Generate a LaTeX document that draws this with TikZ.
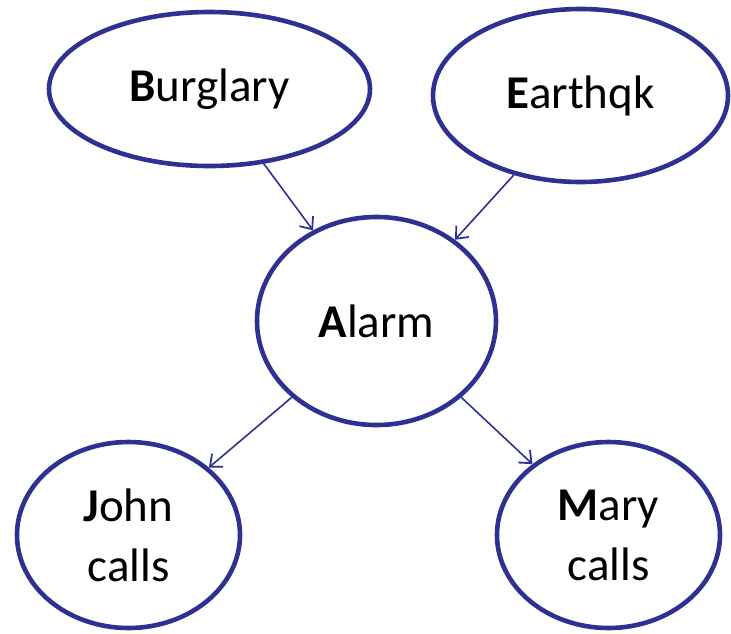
\documentclass[tikz,border=0pt]{standalone}
\usepackage{fontspec}
\setmainfont{Carlito}
\usetikzlibrary{shapes.geometric,arrows.meta}
\definecolor{navy}{RGB}{46,49,146}
\begin{document}
\begin{tikzpicture}[x=1pt,y=-1pt,
  bn/.style={ellipse,draw=navy,line width=4.6pt,inner sep=0pt,
    font=\fontsize{47}{60}\selectfont,align=center},
  edge/.style={draw=navy,line width=1.6pt,-{Straight Barb[length=10pt,width=17pt,line width=1.8pt]}}]
\useasboundingbox (0,0) rectangle (731,633);
\node[bn,minimum width=321pt,minimum height=154pt] (B) at (209.5,89) {\textbf{B}urglary};
\node[bn,minimum width=295pt,minimum height=173pt] (E) at (580.5,95.5) {\textbf{E}arthqk};
\node[bn,minimum width=239pt,minimum height=208pt] (A) at (376.5,321) {\textbf{A}larm};
\node[bn,minimum width=223pt,minimum height=186pt] (J) at (128.5,535) {\textbf{J}ohn\\calls};
\node[bn,minimum width=223pt,minimum height=186pt] (M) at (608.5,535) {\textbf{M}ary\\calls};
\draw[edge] (B.-54.6) -- (A.125.9);
\draw[edge] (E.-130.9) -- (A.46.9);
\draw[edge] (A.-138.7) -- (J.40.8);
\draw[edge] (A.-42.4) -- (M.137.5);
\end{tikzpicture}
\end{document}
